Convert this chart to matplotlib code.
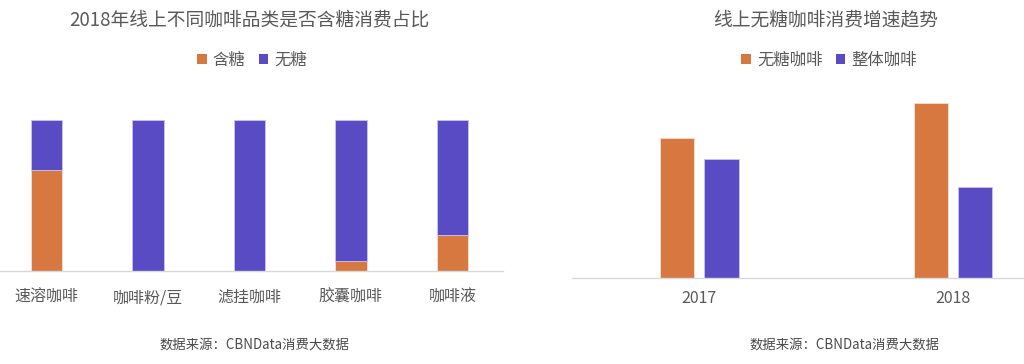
import matplotlib
matplotlib.use("Agg")
import matplotlib.pyplot as plt
from matplotlib.patches import Patch
import numpy as np

plt.rcParams['font.family'] = ['Noto Sans CJK SC', 'DejaVu Sans']

# ---- data ----
left_title = "2018年线上不同咖啡品类是否含糖消费占比"
categories = ["速溶咖啡", "咖啡粉/豆", "滤挂咖啡", "胶囊咖啡", "咖啡液"]
sugar = [0.67, 0.0, 0.0, 0.064, 0.236]
no_sugar = [1 - v for v in sugar]
left_series = ["含糖", "无糖"]

right_title = "线上无糖咖啡消费增速趋势"
years = ["2017", "2018"]
sugarfree_growth = [0.80, 1.00]
overall_growth = [0.68, 0.52]
right_series = ["无糖咖啡", "整体咖啡"]

source = "数据来源：CBNData消费大数据"

ORANGE = "#D6783F"
PURPLE = "#584BC4"
TEXT = "#595959"
AXIS = "#D9D9D9"

W, H = 1024, 364
fig = plt.figure(figsize=(W / 100, H / 100), dpi=100)

def pos(x0, x1, ytop, ybot):
    return [x0 / W, 1 - ybot / H, (x1 - x0) / W, (ybot - ytop) / H]

# ---- left chart ----
ax1 = fig.add_axes(pos(0, 503, 120, 271))
x = np.arange(len(categories))
ax1.bar(x, sugar, width=0.31, color=ORANGE, edgecolor="#F3E0D4", linewidth=0.6)
ax1.bar(x, no_sugar, bottom=sugar, width=0.31, color=PURPLE, edgecolor="#C9C4F0", linewidth=0.6)
ax1.set_xlim(-0.46, 4.5)
ax1.set_ylim(0, 1)
ax1.set_xticks(x)
ax1.set_xticklabels(categories, fontsize=11.5, color=TEXT)
ax1.tick_params(axis='x', length=0, pad=13)
ax1.set_yticks([])
for s in ["top", "right", "left"]:
    ax1.spines[s].set_visible(False)
ax1.spines["bottom"].set_color(AXIS)
ax1.spines["bottom"].set_linewidth(1)

# ---- right chart ----
ax2 = fig.add_axes(pos(572, 1024, 103.3, 277.7))
xr = np.arange(len(years))
ax2.bar(xr - 0.0875, sugarfree_growth, width=0.135, color=ORANGE, edgecolor="#F3E0D4", linewidth=0.6)
ax2.bar(xr + 0.0875, overall_growth, width=0.135, color=PURPLE, edgecolor="#C9C4F0", linewidth=0.6)
ax2.set_xlim(-0.502, 1.28)
ax2.set_ylim(0, 1)
ax2.set_xticks(xr)
ax2.set_xticklabels(years, fontsize=11.5, color=TEXT)
ax2.tick_params(axis='x', length=0, pad=9)
ax2.set_yticks([])
for s in ["top", "right", "left"]:
    ax2.spines[s].set_visible(False)
ax2.spines["bottom"].set_color(AXIS)
ax2.spines["bottom"].set_linewidth(1)

# ---- titles ----
fig.text(249 / W, 1 - 20 / H, left_title, ha="center", va="center", fontsize=13.5, color=TEXT)
fig.text(826 / W, 1 - 20 / H, right_title, ha="center", va="center", fontsize=13.5, color=TEXT)

# ---- legends ----
def legend(cx, labels):
    handles = [Patch(facecolor=ORANGE), Patch(facecolor=PURPLE)]
    fig.legend(handles, labels, loc="center", bbox_to_anchor=(cx / W, 1 - 60 / H),
               ncol=2, frameon=False, fontsize=11.8, handlelength=0.6, handleheight=0.6,
               handletextpad=0.35, columnspacing=0.8, labelcolor=TEXT)

legend(252, left_series)
legend(829, right_series)

# ---- sources ----
fig.text(255 / W, 1 - 345 / H, source, ha="center", va="center", fontsize=9.6, color="#4a4a4a")
fig.text(845 / W, 1 - 345 / H, source, ha="center", va="center", fontsize=9.6, color="#4a4a4a")

fig.savefig("out.png", dpi=100, facecolor="white")
